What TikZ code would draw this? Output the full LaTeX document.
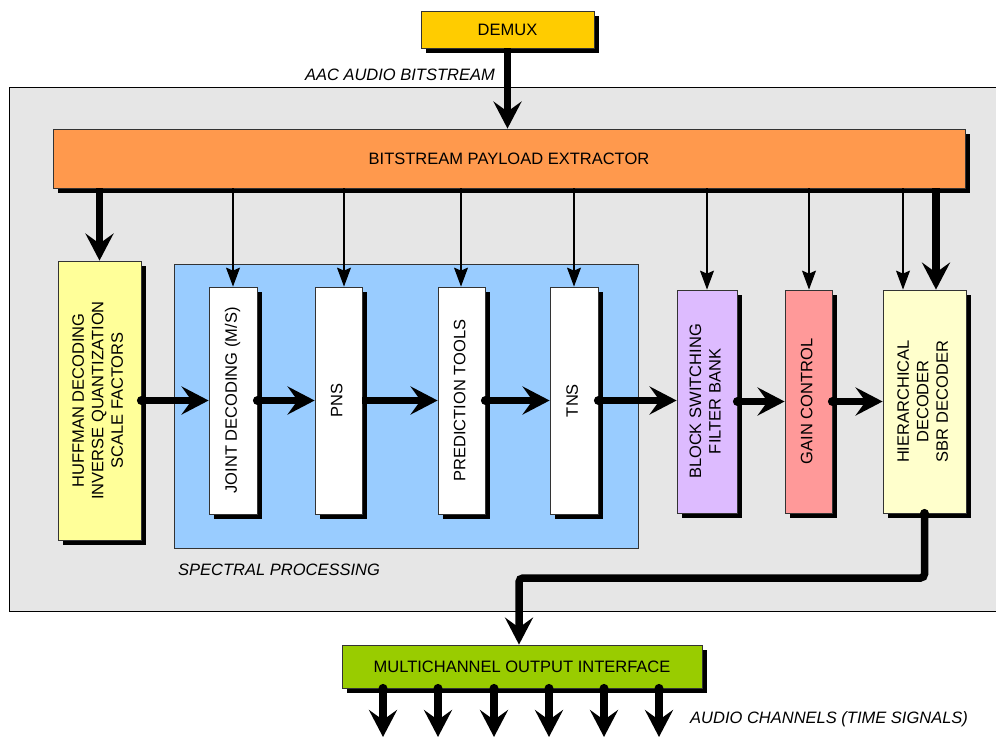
\documentclass[tikz,border=0pt]{standalone}
\usepackage{fontspec}
\setmainfont{Liberation Sans}
\usetikzlibrary{arrows.meta,shadows}

\definecolor{demuxfill}{HTML}{FFCC00}
\definecolor{extractfill}{HTML}{FF994D}
\definecolor{framefill}{HTML}{E6E6E6}
\definecolor{huffill}{HTML}{FFFF99}
\definecolor{specfill}{HTML}{99CCFF}
\definecolor{blockfill}{HTML}{DDBBFF}
\definecolor{gainfill}{HTML}{FF9999}
\definecolor{hierfill}{HTML}{FFFFCC}
\definecolor{outfill}{HTML}{99CC00}
\definecolor{edge}{HTML}{333333}

\newcommand{\vtext}[1]{\rotatebox{90}{\begin{tabular}{@{}c@{}}#1\end{tabular}}}

\begin{document}
\begin{tikzpicture}[x=1pt,y=-1pt,
  font=\fontsize{16.5}{19.5}\selectfont,
  blk/.style={draw=edge, line width=0.8pt, inner sep=0pt,
    general shadow={fill=black, shadow xshift=5pt, shadow yshift=-5pt}},
  bigarrow/.style={line width=7.5pt, -{Stealth[length=27pt,width=28pt,inset=10pt]}},
  thinarrow/.style={line width=1.2pt, -{Stealth[length=19pt,width=14pt,inset=3pt]}},
  caption/.style={font=\fontsize{16.5}{19.5}\selectfont\itshape, inner sep=0pt}
]
\useasboundingbox (0,0) rectangle (996,737);

% decoder frame (runs past the right edge) and spectral processing area
\draw[fill=framefill, line width=0.8pt] (1010,87) -- (9,87) -- (9,611) -- (1010,611);
\draw[fill=specfill, draw=edge, line width=0.8pt] (174,264) rectangle (638,548);

% blocks
\node[blk, fill=demuxfill, minimum width=173pt, minimum height=37pt] (demux) at (507.5,29.5) {DEMUX};
\node[blk, fill=extractfill, minimum width=912pt, minimum height=59pt] (extract) at (509,158.5) {BITSTREAM PAYLOAD EXTRACTOR};
\node[blk, fill=huffill, minimum width=83pt, minimum height=279pt] (huff) at (99.5,400.5)
  {\vtext{HUFFMAN DECODING\\INVERSE QUANTIZATION\\SCALE FACTORS}};
\node[blk, fill=white, minimum width=48pt, minimum height=227pt] (joint) at (233,400.5) {\vtext{JOINT DECODING (M/S)}};
\node[blk, fill=white, minimum width=47pt, minimum height=227pt] (pns) at (338.5,400.5) {\vtext{PNS}};
\node[blk, fill=white, minimum width=47pt, minimum height=227pt] (pred) at (461.5,400.5) {\vtext{PREDICTION TOOLS}};
\node[blk, fill=white, minimum width=48pt, minimum height=227pt] (tns) at (574,400.5) {\vtext{TNS}};
\node[blk, fill=blockfill, minimum width=60pt, minimum height=223pt] (block) at (707,401.5)
  {\vtext{BLOCK SWITCHING\\FILTER BANK}};
\node[blk, fill=gainfill, minimum width=47pt, minimum height=223pt] (gain) at (808.5,401.5) {\vtext{GAIN CONTROL}};
\node[blk, fill=hierfill, minimum width=83pt, minimum height=223pt] (hier) at (924.5,401.5)
  {\vtext{HIERARCHICAL\\DECODER\\SBR DECODER}};
\node[blk, fill=outfill, minimum width=360pt, minimum height=43pt] (out) at (522,666.5) {MULTICHANNEL OUTPUT INTERFACE};

% captions
\node[caption, anchor=east] (aaclbl) at (495,75) {AAC AUDIO BITSTREAM};
\node[caption, anchor=west] (speclbl) at (178,570) {SPECTRAL PROCESSING};
\node[caption, anchor=west] (chlbl) at (690,719) {AUDIO CHANNELS (TIME SIGNALS)};

% bitstream into the extractor
\draw[bigarrow] (demux.south) -- (demux.south |- extract.north);

% side information from the extractor
\draw[bigarrow] (extract.south -| huff.north) -- (huff.north);
\foreach \b/\x in {joint/233,pns/344,pred/461,tns/574,block/707,gain/809}{
  \coordinate (\b side) at (\x,0);
  \draw[thinarrow] (extract.south -| \b side) -- (\b.north -| \b side);
}
\coordinate (hierside) at ([xshift=-21.5pt]hier.north);
\coordinate (hiermain) at ([xshift=11.5pt]hier.north);
\draw[thinarrow] (extract.south -| hierside) -- (hierside);
\draw[bigarrow] (extract.south -| hiermain) -- (hiermain);

% spectral data chain
\foreach \a/\b in {huff/joint,joint/pns,pred/tns,tns/block,block/gain,gain/hier}{
  \fill (\a.east) circle (4.5pt);
  \draw[bigarrow] (\a.east) -- (\b.west |- \a.east);
}
\draw[bigarrow] (pns.east) -- (pred.west |- pns.east);

% time signal to the output interface
\coordinate (drop) at (519,578);
\fill (hier.south) circle (4.5pt);
\draw[bigarrow, rounded corners=4pt] (hier.south) |- (drop) -- (drop |- out.north);

% audio channels
\foreach \i/\x in {1/383,2/438,3/494,4/549,5/604,6/659}{
  \coordinate (ch\i) at (\x,737);
  \fill (out.south -| ch\i) circle (4.5pt);
  \draw[bigarrow] (out.south -| ch\i) -- (ch\i);
}
\end{tikzpicture}
\end{document}
